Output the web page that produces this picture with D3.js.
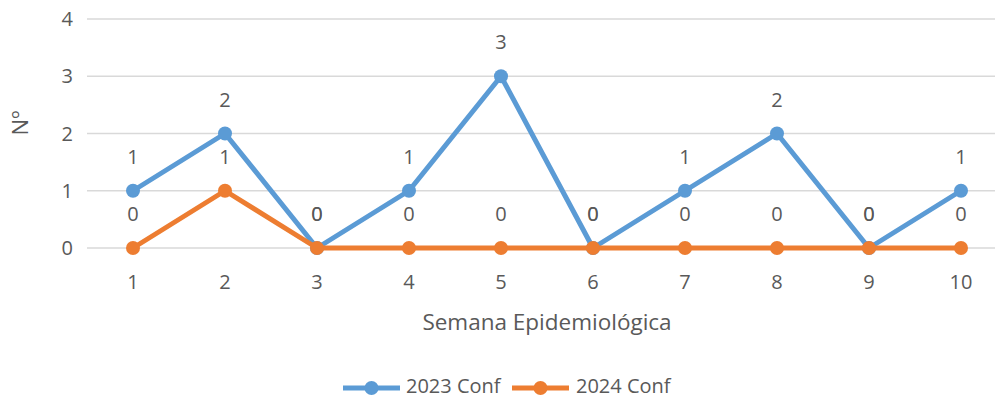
<!DOCTYPE html>
<html><head><meta charset="utf-8">
<script src="https://cdn.jsdelivr.net/npm/d3@7"></script>
<style>body{margin:0;background:#fff}svg{display:block}text{font-family:"Open Sans","Liberation Sans",sans-serif;fill:#595959}</style>
</head><body><svg id="c" width="995" height="401"></svg>
<script>
const weeks = ["1","2","3","4","5","6","7","8","9","10"];
const s2023 = [1,2,0,1,3,0,1,2,0,1];
const s2024 = [0,1,0,0,0,0,0,0,0,0];
const yTicks = [0,1,2,3,4];
const seriesNames = ["2023 Conf","2024 Conf"];
const colors = ["#5B9BD5","#ED7D31"];

const svg = d3.select("#c");
const x = d3.scaleBand().domain(weeks).range([87,1007]);
const y = d3.scaleLinear().domain([0,4]).range([248,19]);
const cx = d => x(d) + x.bandwidth()/2;

svg.append("g").selectAll("line").data(yTicks).join("line")
  .attr("x1",87).attr("x2",995).attr("y1",d=>y(d)).attr("y2",d=>y(d))
  .attr("stroke","#d9d9d9").attr("stroke-width",1.3);
svg.append("g").selectAll("text").data(yTicks).join("text")
  .attr("x",73).attr("y",d=>y(d)).attr("dy","0.35em").attr("text-anchor","end")
  .attr("font-size",20).text(d=>d);
svg.append("g").selectAll("text").data(weeks).join("text")
  .attr("x",d=>cx(d)).attr("y",282).attr("dy","0.35em").attr("text-anchor","middle")
  .attr("font-size",20).text(d=>d);
svg.append("text").attr("x",547).attr("y",322).attr("dy","0.35em").attr("text-anchor","middle")
  .attr("font-size",22.5).text("Semana Epidemiológica");
svg.append("text").attr("transform","translate(20,123) rotate(-90)").attr("dy","0.35em")
  .attr("text-anchor","middle").attr("font-size",22).text("Nº");

const line = d3.line().x((d,i)=>cx(weeks[i])).y(d=>y(d));
[s2023,s2024].forEach((s,k)=>{
  const g = svg.append("g");
  g.append("path").attr("d",line(s)).attr("fill","none").attr("stroke",colors[k])
    .attr("stroke-width",5).attr("stroke-linejoin","round");
  g.selectAll("circle").data(s).join("circle").attr("cx",(d,i)=>cx(weeks[i])).attr("cy",d=>y(d))
    .attr("r",7).attr("fill",colors[k]);
});
[s2023,s2024].forEach((s,k)=>{
  svg.append("g").selectAll("text").data(s).join("text")
    .attr("x",(d,i)=>cx(weeks[i])).attr("y",d=>y(d)-34).attr("dy","0.35em")
    .attr("text-anchor","middle").attr("font-size",20).attr("fill","#404040").text(d=>d);
});

const leg = [{x0:343,tx:406},{x0:512,tx:576}];
seriesNames.forEach((n,k)=>{
  const g = svg.append("g");
  g.append("line").attr("x1",leg[k].x0).attr("x2",leg[k].x0+57).attr("y1",388).attr("y2",388)
    .attr("stroke",colors[k]).attr("stroke-width",5);
  g.append("circle").attr("cx",leg[k].x0+28.5).attr("cy",388).attr("r",7).attr("fill",colors[k]);
  g.append("text").attr("x",leg[k].tx).attr("y",386).attr("dy","0.35em").attr("font-size",20).text(n);
});
</script></body></html>
